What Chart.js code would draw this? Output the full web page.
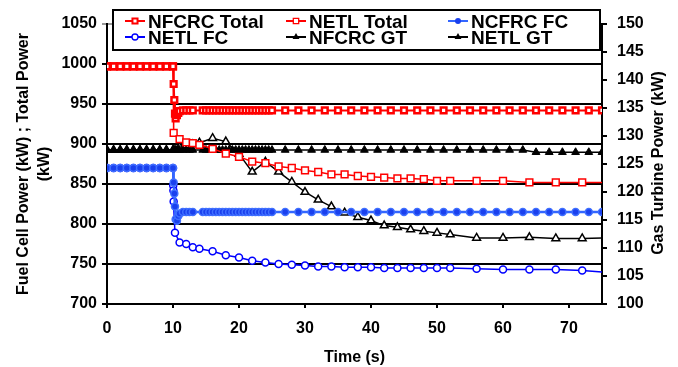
<!DOCTYPE html>
<html>
<head>
<meta charset="utf-8">
<script src="https://cdn.jsdelivr.net/npm/chart.js@4/dist/chart.umd.min.js"></script>
<style>
  html, body { margin: 0; padding: 0; background: #fff; }
</style>
</head>
<body>
<canvas id="powerChart" width="678" height="367"></canvas>
<script>
const FONT = '"Liberation Sans", Arial, sans-serif';

// axis ranges (s, kW, kW)
const timeRange = [0, 75];
const powerRange = [700, 1050];
const gtRange = [100, 150];

const seriesLabels = ['NFCRC Total', 'NETL Total', 'NCFRC FC', 'NETL FC', 'NFCRC GT', 'NETL GT'];

// NFCRC model - fine time step, markers pile up into a band 10..25 s
const nfcrcTime = [0, 1, 2, 3, 4, 5, 6, 7, 8, 9, 10,
    10.1, 10.2, 10.3, 10.4, 10.6, 10.8,
    11, 11.5, 12, 12.5, 13,
    14.5, 15, 15.5, 16, 16.5, 17, 17.5, 18, 18.5, 19, 19.5, 20, 20.5, 21, 21.5, 22, 22.5, 23, 23.5, 24, 24.5, 25,
    27, 29, 31, 33, 35, 37, 39, 41, 43, 45, 47, 49, 51, 53, 55, 57, 59, 61, 63, 65, 67, 69, 71, 73, 75];
const nfcrcTotalPower = [997, 997, 997, 997, 997, 997, 997, 997, 997, 997, 997,
    975, 955, 938, 932, 936, 939,
    941, 942, 942, 942, 942,
    942, 942, 942, 942, 942, 942, 942, 942, 942, 942, 942, 942, 942, 942, 942, 942, 942, 942, 942, 942, 942, 942,
    942, 942, 942, 942, 942, 942, 942, 942, 942, 942, 942, 942, 942, 942, 942, 942, 942, 942, 942, 942, 942, 942, 942, 942, 942];
const ncfrcFcPower = [870, 870, 870, 870, 870, 870, 870, 870, 870, 870, 870,
    852, 838, 822, 806, 804, 810,
    813, 815, 815, 815, 815,
    815, 815, 815, 815, 815, 815, 815, 815, 815, 815, 815, 815, 815, 815, 815, 815, 815, 815, 815, 815, 815, 815,
    815, 815, 815, 815, 815, 815, 815, 815, 815, 815, 815, 815, 815, 815, 815, 815, 815, 815, 815, 815, 815, 815, 815, 815, 815];
const nfcrcGtPower = [127.5, 127.5, 127.5, 127.5, 127.5, 127.5, 127.5, 127.5, 127.5, 127.5, 127.5,
    127.5, 127.5, 127.5, 127.5, 127.5, 127.5,
    127.5, 127.5, 127.5, 127.5, 127.5,
    127.5, 127.5, 127.5, 127.5, 127.5, 127.5, 127.5, 127.5, 127.5, 127.5, 127.5, 127.5, 127.5, 127.5, 127.5, 127.5, 127.5, 127.5, 127.5, 127.5, 127.5, 127.5,
    127.5, 127.5, 127.5, 127.5, 127.5, 127.5, 127.5, 127.5, 127.5, 127.5, 127.5, 127.5, 127.5, 127.5, 127.5, 127.5, 127.5, 127.5, 127.5, 127.1, 127.1, 127.1, 127.1, 127.1, 127.1];

// NETL model
const netlTotalTime = [0, 1, 2, 3, 4, 5, 6, 7, 8, 9, 10, 10.1, 11, 12, 13, 14,
    16, 18, 20, 22, 24, 26, 28, 30, 32, 34, 36, 38, 40, 42, 44, 46, 48, 50, 52, 56, 60, 64, 68, 72, 75];
const netlTotalPower = [997, 997, 997, 997, 997, 997, 997, 997, 997, 997, 997, 914, 906, 902, 901, 899,
    894, 888, 884, 878, 876, 872, 870, 867, 865, 862, 862, 860, 859, 858, 857, 857, 856, 854, 854, 854, 854, 852, 852, 852, 852];

const netlFcTime = [0, 1, 2, 3, 4, 5, 6, 7, 8, 9, 10, 10.03, 10.06, 10.1, 10.3, 11, 12, 13, 14,
    16, 18, 20, 22, 24, 26, 28, 30, 32, 34, 36, 38, 40, 42, 44, 46, 48, 50, 52, 56, 60, 64, 68, 72, 75];
const netlFcPower = [870, 870, 870, 870, 870, 870, 870, 870, 870, 870, 870, 848, 842, 828, 789, 777, 775, 771, 769,
    766, 761, 758, 754, 752, 750, 749, 748, 747, 747, 746, 746, 746, 745, 745, 745, 745, 745, 745, 744, 743, 743, 743, 742, 740];

const netlGtTime = [0, 1, 2, 3, 4, 5, 6, 7, 8, 9, 10, 11, 12, 13, 14,
    16, 18, 20, 22, 24, 26, 28, 30, 32, 34, 36, 38, 40, 42, 44, 46, 48, 50, 52, 56, 60, 64, 68, 72, 75];
const netlGtPower = [127.5, 127.5, 127.5, 127.5, 127.5, 127.5, 127.5, 127.5, 127.5, 127.5, 127.5, 128, 128.3, 128.5, 128.8,
    129.6, 129.0, 126.8, 123.6, 125.4, 123.6, 121.8, 120.0, 118.6, 117.4, 116.3, 115.5, 114.9, 114.0, 113.7, 113.3, 113.0, 112.7, 112.4,
    111.8, 111.8, 111.9, 111.7, 111.7, 111.8];

function pts(xs, ys) {
    return xs.map((x, i) => ({ x: x, y: ys[i] }));
}

// the NETL runs end at 75 s without a marker
function noLastMarker(r) {
    return c => (c.dataIndex === c.dataset.data.length - 1 ? 0 : r);
}

// legend marker drawing (legend box is drawn by hand, Excel style)
function drawMarker(ctx, style, x, y, r, fill, stroke, bw) {
    ctx.beginPath();
    if (style === 'rect') {
        const s = r * Math.SQRT2;
        ctx.rect(x - s / 2, y - s / 2, s, s);
    } else if (style === 'triangle') {
        let a = 0;
        ctx.moveTo(x + Math.sin(a) * r, y - Math.cos(a) * r);
        a += Math.PI * 2 / 3;
        ctx.lineTo(x + Math.sin(a) * r, y - Math.cos(a) * r);
        a += Math.PI * 2 / 3;
        ctx.lineTo(x + Math.sin(a) * r, y - Math.cos(a) * r);
        ctx.closePath();
    } else {
        ctx.arc(x, y, r, 0, Math.PI * 2);
    }
    ctx.fillStyle = fill;
    ctx.fill();
    if (bw > 0) {
        ctx.lineWidth = bw;
        ctx.strokeStyle = stroke;
        ctx.stroke();
    }
}

const extras = {
    id: 'extras',
    afterDraw(chart) {
        const ctx = chart.ctx;
        const area = chart.chartArea;
        ctx.save();

        // legend box
        ctx.fillStyle = '#fff';
        ctx.fillRect(113, 10, 487, 40);
        ctx.lineWidth = 2;
        ctx.strokeStyle = '#000';
        ctx.strokeRect(113, 10, 487, 40);

        const cols = [135, 296, 458];
        const rows = [21, 37];
        const legendSize = [[3.6, 2], [3.8, 1.3], [3, 0], [3, 1.3], [4, 0], [4, 0]];
        ctx.font = 'bold 19px ' + FONT;
        ctx.textBaseline = 'alphabetic';
        chart.data.datasets.forEach((ds, i) => {
            const cx = cols[i % 3];
            const cy = rows[Math.floor(i / 3)];
            ctx.lineWidth = 2;
            ctx.strokeStyle = ds.borderColor;
            ctx.beginPath();
            ctx.moveTo(cx - 10, cy);
            ctx.lineTo(cx + 10, cy);
            ctx.stroke();
            const fill = ds.pointStyle === 'triangle' ? '#000' : ds.pointBackgroundColor;
            drawMarker(ctx, ds.pointStyle, cx, cy, legendSize[i][0], fill, ds.pointBorderColor, legendSize[i][1]);
            ctx.fillStyle = '#000';
            ctx.textAlign = 'left';
            ctx.fillText(ds.label, cx + 13, cy + 6.5);
        });

        // right axis title reads bottom to top like the left one
        ctx.translate(659, (area.top + area.bottom) / 2 - 1);
        ctx.rotate(-Math.PI / 2);
        ctx.font = 'bold 16px ' + FONT;
        ctx.textAlign = 'center';
        ctx.textBaseline = 'middle';
        ctx.fillStyle = '#000';
        ctx.fillText('Gas Turbine Power (kW)', 0, 0);
        ctx.restore();
    }
};

const tickFont = { family: FONT, size: 16, weight: 'bold' };
const titleFont = { family: FONT, size: 16, weight: 'bold', lineHeight: 1.3 };
const plainLabel = v => String(v);

const ctx = document.getElementById('powerChart').getContext('2d');
window.powerChart = new Chart(ctx, {
    type: 'scatter',
    data: {
        datasets: [
            {
                label: seriesLabels[0],
                data: pts(nfcrcTime, nfcrcTotalPower),
                yAxisID: 'y',
                showLine: true,
                borderColor: '#ff0000',
                borderWidth: 2,
                pointStyle: 'rect',
                pointRadius: 4,
                pointBorderWidth: 2.5,
                pointBorderColor: '#ff0000',
                pointBackgroundColor: '#ffffff'
            },
            {
                label: seriesLabels[1],
                data: pts(netlTotalTime, netlTotalPower),
                yAxisID: 'y',
                showLine: true,
                borderColor: '#ff0000',
                borderWidth: 1.5,
                pointStyle: 'rect',
                pointRadius: noLastMarker(4.8),
                pointBorderWidth: 1.5,
                pointBorderColor: '#ff0000',
                pointBackgroundColor: '#ffffff'
            },
            {
                label: seriesLabels[2],
                data: pts(nfcrcTime, ncfrcFcPower),
                yAxisID: 'y',
                showLine: true,
                borderColor: '#3366ff',
                borderWidth: 2.5,
                pointStyle: 'circle',
                pointRadius: 3.5,
                pointBorderWidth: 1.5,
                pointBorderColor: '#3f6fff',
                pointBackgroundColor: '#1a40ee'
            },
            {
                label: seriesLabels[3],
                data: pts(netlFcTime, netlFcPower),
                yAxisID: 'y',
                showLine: true,
                borderColor: '#0000ff',
                borderWidth: 1.5,
                pointStyle: 'circle',
                pointRadius: noLastMarker(3.5),
                pointBorderWidth: 1.5,
                pointBorderColor: '#0000ff',
                pointBackgroundColor: '#ffffff'
            },
            {
                label: seriesLabels[4],
                data: pts(nfcrcTime, nfcrcGtPower),
                yAxisID: 'y1',
                showLine: true,
                borderColor: '#000000',
                borderWidth: 1.5,
                pointStyle: 'triangle',
                pointRadius: 4.5,
                pointBorderWidth: 1,
                pointBorderColor: '#000000',
                pointBackgroundColor: '#000000'
            },
            {
                label: seriesLabels[5],
                data: pts(netlGtTime, netlGtPower),
                yAxisID: 'y1',
                showLine: true,
                borderColor: '#000000',
                borderWidth: 1.5,
                pointStyle: 'triangle',
                pointRadius: noLastMarker(4.5),
                pointBorderWidth: 1.5,
                pointBorderColor: '#000000',
                pointBackgroundColor: '#ffffff'
            }
        ]
    },
    options: {
        responsive: false,
        animation: false,
        devicePixelRatio: 1,
        layout: { padding: { top: 24, left: 0, right: 0, bottom: 0 } },
        plugins: {
            legend: { display: false },
            tooltip: { enabled: false }
        },
        elements: { line: { tension: 0 } },
        scales: {
            x: {
                type: 'linear',
                min: timeRange[0],
                max: timeRange[1],
                ticks: { stepSize: 10, includeBounds: false, font: tickFont, color: '#000', padding: 11, callback: plainLabel },
                grid: { drawOnChartArea: false, drawTicks: true, tickLength: 4, color: '#000', lineWidth: 2 },
                border: { color: '#000', width: 2 },
                title: { display: true, text: 'Time (s)', font: titleFont, color: '#000', padding: { top: 0, bottom: -1 } },
                afterFit: s => { s.height = 63; }
            },
            y: {
                position: 'left',
                min: powerRange[0],
                max: powerRange[1],
                ticks: { stepSize: 50, font: tickFont, color: '#000', padding: 5, callback: plainLabel },
                grid: {
                    color: c => (c.tick && c.tick.value === powerRange[1] ? '#999999' : '#000000'),
                    lineWidth: 2,
                    tickLength: 5
                },
                border: { color: '#000', width: 2 },
                title: {
                    display: true,
                    text: ['Fuel Cell Power (kW) ; Total Power', '(kW)'],
                    font: titleFont,
                    color: '#000',
                    padding: { top: 13, bottom: 0 }
                },
                afterFit: s => { s.width = 107; }
            },
            y1: {
                position: 'right',
                min: gtRange[0],
                max: gtRange[1],
                ticks: { stepSize: 5, font: tickFont, color: '#000', padding: 10, callback: plainLabel },
                grid: { drawOnChartArea: false, tickLength: 5, color: '#000', lineWidth: 2 },
                border: { color: '#000', width: 2 },
                afterFit: s => { s.width = 76; }
            }
        }
    },
    plugins: [extras]
});
</script>
</body>
</html>
